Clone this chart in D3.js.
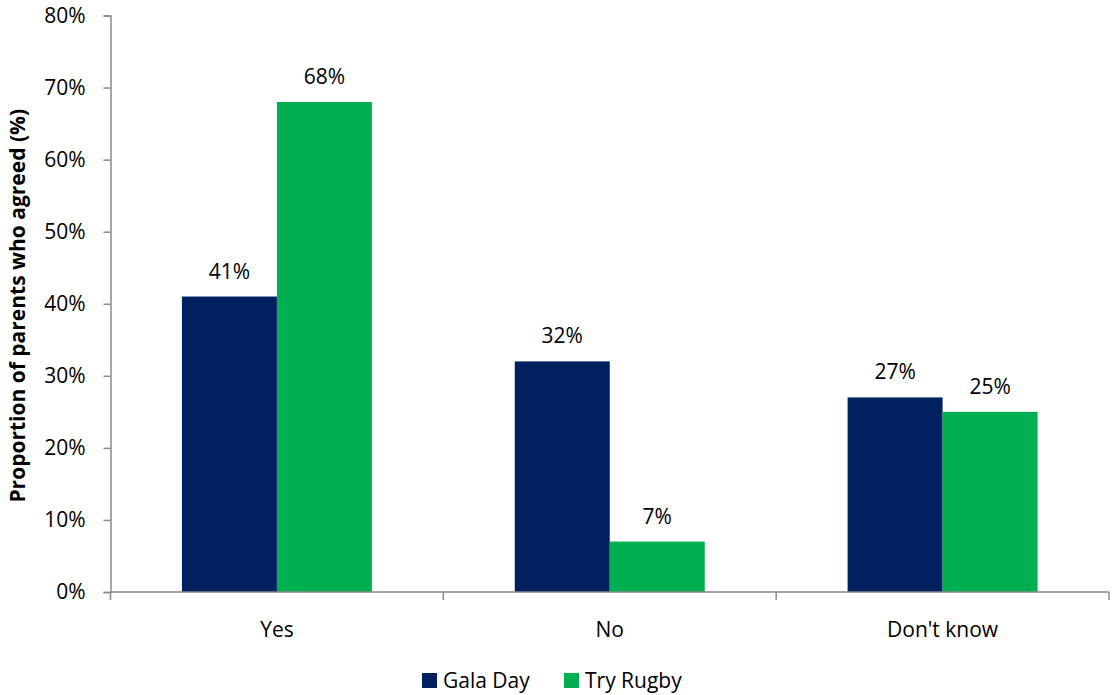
<!DOCTYPE html>
<html>
<head>
<meta charset="utf-8">
<script src="https://cdn.jsdelivr.net/npm/d3@7"></script>
<style>
  body { margin: 0; background: #fff; }
  svg { display: block; font-family: "Open Sans", "Liberation Sans", sans-serif; }
</style>
</head>
<body>
<svg id="chart" width="1113" height="695"></svg>
<script>
const categories = ["Yes", "No", "Don't know"];
const seriesNames = ["Gala Day", "Try Rugby"];
const galaDay = [41, 32, 27];
const tryRugby = [68, 7, 25];
const yTicks = [0, 10, 20, 30, 40, 50, 60, 70, 80];
const colors = ["#002060", "#00B050"];

const svg = d3.select("#chart");
const margin = { left: 110.5, right: 4, top: 15.5, bottom: 103 };
const W = 1113, H = 695;
const plotW = W - margin.left - margin.right;
const plotH = H - margin.top - margin.bottom;
const fontSize = 21;

const x0 = d3.scaleBand().domain(categories).range([0, plotW]).paddingInner(0).paddingOuter(0);
const x1 = d3.scaleBand().domain(seriesNames).range([0, x0.bandwidth()]).paddingInner(0).paddingOuter(0.752);
const y = d3.scaleLinear().domain([0, 80]).range([plotH, 0]);

const g = svg.append("g").attr("transform", `translate(${margin.left},${margin.top})`);

const rows = categories.map((c, i) => ({ cat: c, vals: [galaDay[i], tryRugby[i]] }));

// bars
const groups = g.selectAll(".grp").data(rows).join("g")
  .attr("transform", d => `translate(${x0(d.cat)},0)`);
groups.selectAll("rect").data(d => d.vals.map((v, j) => ({ v, s: seriesNames[j], j })))
  .join("rect")
  .attr("x", d => x1(d.s))
  .attr("width", x1.bandwidth())
  .attr("y", d => y(d.v))
  .attr("height", d => plotH - y(d.v))
  .attr("fill", d => colors[d.j]);

// value labels
groups.selectAll("text").data(d => d.vals.map((v, j) => ({ v, s: seriesNames[j] })))
  .join("text")
  .attr("x", d => x1(d.s) + x1.bandwidth() / 2)
  .attr("y", d => y(d.v) - 18)
  .attr("text-anchor", "middle")
  .attr("font-size", fontSize)
  .attr("fill", "#000")
  .text(d => d.v + "%");

// y axis
const yAxis = g.append("g").call(d3.axisLeft(y).tickValues(yTicks).tickFormat(d => d + "%").tickSizeOuter(0).tickSize(7).tickPadding(18));
yAxis.select(".domain").attr("stroke", "#898989").attr("stroke-width", 1.5);
yAxis.selectAll(".tick line").attr("stroke", "#898989").attr("stroke-width", 1.5);
yAxis.selectAll(".tick text").attr("font-size", fontSize).attr("fill", "#000").attr("font-family", "Open Sans, sans-serif");

// x axis baseline and category separators
const xAxis = g.append("g").attr("transform", `translate(0,${plotH})`);
xAxis.append("line").attr("x1", 0).attr("x2", plotW).attr("y1", 0).attr("y2", 0)
  .attr("stroke", "#898989").attr("stroke-width", 1.5);
const bounds = categories.map(c => x0(c)).concat([plotW]);
xAxis.selectAll(".sep").data(bounds).join("line")
  .attr("x1", d => d).attr("x2", d => d).attr("y1", 0).attr("y2", 8)
  .attr("stroke", "#898989").attr("stroke-width", 1.5);
xAxis.selectAll(".cat").data(categories).join("text")
  .attr("x", d => x0(d) + x0.bandwidth() / 2)
  .attr("y", 45)
  .attr("text-anchor", "middle")
  .attr("font-size", fontSize)
  .attr("fill", "#000")
  .text(d => d);

// y axis title
svg.append("text")
  .attr("transform", `translate(25,${margin.top + plotH / 2 + 2}) rotate(-90)`)
  .attr("text-anchor", "middle")
  .attr("font-size", 21)
  .attr("font-weight", "bold")
  .attr("fill", "#000")
  .text("Proportion of parents who agreed (%)");

// legend
const legend = svg.append("g").attr("transform", "translate(422,673)");
const legendX = [0, 142];
seriesNames.forEach((s, i) => {
  const lg = legend.append("g").attr("transform", `translate(${legendX[i]},0)`);
  lg.append("rect").attr("width", 15).attr("height", 15).attr("fill", colors[i]);
  lg.append("text").attr("x", 21).attr("y", 15).attr("font-size", fontSize).attr("fill", "#000").text(s);
});
</script>
</body>
</html>
